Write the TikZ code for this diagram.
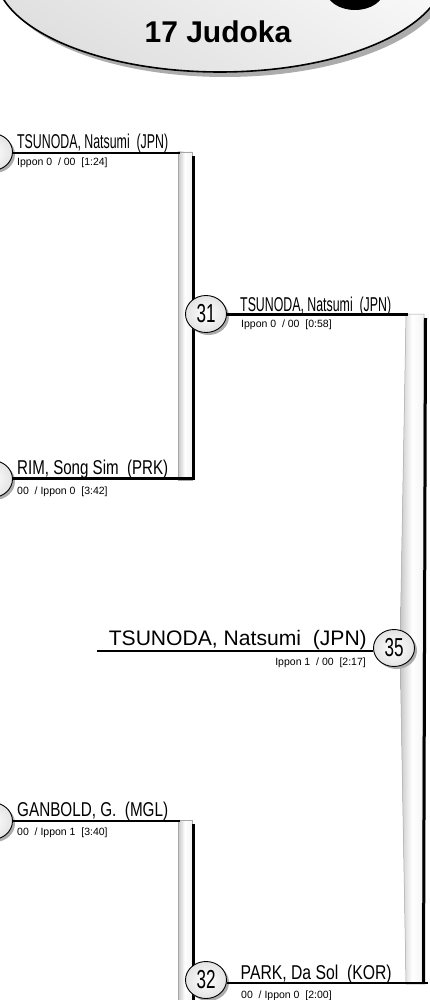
\documentclass[tikz,border=0pt]{standalone}
\usepackage{fontspec}
\setmainfont{Liberation Sans}
\usetikzlibrary{shapes.geometric,shadows}
\newcommand{\nmfit}[2]{\resizebox{#1}{\height}{\fontsize{20}{24}\selectfont #2}}
\newcommand{\bignm}[2]{\resizebox{#1}{\height}{\fontsize{21}{24}\selectfont #2}}
\newcommand{\numtxt}[1]{\resizebox{19pt}{\height}{\fontsize{26}{26}\selectfont #1}}
\begin{document}
\begin{tikzpicture}[x=1pt,y=-1pt,
  mcirc/.style={ellipse, draw=black, line width=0.9pt, minimum width=41pt, minimum height=37pt, inner sep=0pt, inner color=white, outer color=gray!22, drop shadow={shadow xshift=2.5pt, shadow yshift=-2.5pt, fill=gray!65, opacity=1}},
  wline/.style={line width=2.2pt, black},
  barfill/.style={draw=gray!70, line width=0.5pt, left color=gray!45, right color=gray!10, middle color=white},
  barshadow/.style={line width=3pt, black},
  nametxt/.style={inner sep=0pt, anchor=base west},
  scoretext/.style={inner sep=0pt, anchor=base west, font=\fontsize{10.5}{12}\selectfont},
]
\useasboundingbox (0,0) rectangle (430,1000);
% header
\fill[gray!65] (225,-23) ellipse [x radius=225pt, y radius=100pt];
\path[draw=black, line width=1.6pt, top color=white, bottom color=gray!25, shading angle=-30] (220,-28) ellipse [x radius=225pt, y radius=100pt];
\fill[black] (355,-10) ellipse [x radius=29pt, y radius=20pt];
\node[inner sep=0pt] (title) at (218,32) {\fontsize{30}{30}\selectfont\bfseries 17 Judoka};

% bars
\path[barfill] (178,152) -- (192,152) -- (192,480) -- (178,480) -- cycle;
\draw[barshadow] (193.5,156) -- (193.5,480);
\path[barfill] (406,314) -- (424,314) -- (422,984) -- (406,984) -- (400,648) -- cycle;
\draw[barshadow] (425.5,318) -- (423.5,984);
\path[barfill] (178,820) -- (192,820) -- (192,1006) -- (178,1006) -- cycle;
\draw[barshadow] (193.5,824) -- (193.5,1006);

% circles
\node[mcirc] (c1) at (-8,152) {};
\node[mcirc] (c2) at (-8,479) {};
\node[mcirc] (c3) at (-8,821) {};
\node[mcirc] (m31) at (206,314) {\numtxt{31}};
\node[mcirc] (m35) at (394,648) {\numtxt{35}};
\node[mcirc] (m32) at (206,980) {\numtxt{32}};

% line end coordinates
\coordinate (e1) at (180,153);
\coordinate (e2) at (195,478.5);
\coordinate (e31) at (408,314.5);
\coordinate (e35) at (97,651);
\coordinate (e3) at (180,821);
\coordinate (e32) at (428,983);

\draw[wline] (c1.east |- e1) -- (e1);
\draw[wline] (c2.east |- e2) -- (e2);
\draw[wline] (m31.east |- e31) -- (e31);
\draw[wline, line width=2.6pt] (m35.west |- e35) -- (e35);
\draw[wline] (c3.east |- e3) -- (e3);
\draw[wline] (m32.east |- e32) -- (e32);

% texts
\node[nametxt] (n1) at (17,149) {\nmfit{151pt}{TSUNODA, Natsumi\ \ (JPN)}};
\node[scoretext] (s1) at (17,166) {Ippon 0\ \ / 00\ \ [1:24]};
\node[nametxt] (n2) at (17,474) {\nmfit{151pt}{RIM, Song Sim\ \ (PRK)}};
\node[scoretext] (s2) at (17,494) {00\ \ / Ippon 0\ \ [3:42]};
\node[nametxt] (n31) at (240,311) {\nmfit{151pt}{TSUNODA, Natsumi\ \ (JPN)}};
\node[scoretext] (s31) at (241,327) {Ippon 0\ \ / 00\ \ [0:58]};
\node[inner sep=0pt, anchor=base east] (n35) at (367,645) {\bignm{258pt}{TSUNODA, Natsumi\ \ (JPN)}};
\node[scoretext, anchor=base east] (s35) at (366,665) {Ippon 1\ \ / 00\ \ [2:17]};
\node[nametxt] (n3) at (17,816) {\nmfit{151pt}{GANBOLD, G.\ \ (MGL)}};
\node[scoretext] (s3) at (17,835) {00\ \ / Ippon 1\ \ [3:40]};
\node[nametxt] (n32) at (240.5,979) {\nmfit{151pt}{PARK, Da Sol\ \ (KOR)}};
\node[scoretext] (s32) at (241,998) {00\ \ / Ippon 0\ \ [2:00]};
\end{tikzpicture}
\end{document}
